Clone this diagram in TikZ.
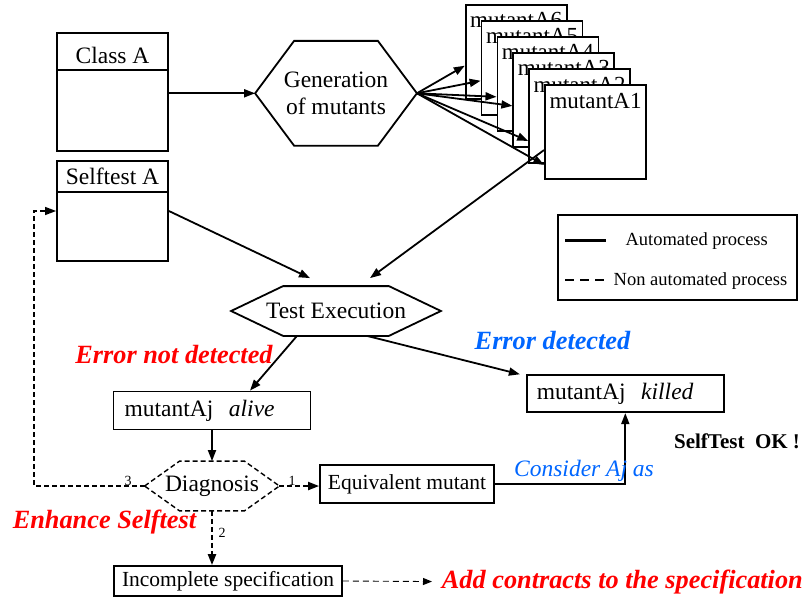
\documentclass[tikz,border=0pt]{standalone}
\usepackage{fontspec}
\setmainfont{Liberation Serif}
\usetikzlibrary{arrows.meta,calc,positioning}
\definecolor{errred}{RGB}{255,0,0}
\definecolor{errblue}{RGB}{0,102,255}
% hexagon drawn round a (plain) node: #2 node name, #3 inset of the points
\newcommand\hexframe[3][]{\draw[#1] (#2.west) -- ([xshift=#3]#2.north west) -- ([xshift=-#3]#2.north east) -- (#2.east) -- ([xshift=-#3]#2.south east) -- ([xshift=#3]#2.south west) -- cycle;}

\begin{document}
\begin{tikzpicture}[x=1pt,y=-1pt,line width=1.8pt,>={Triangle[length=11pt,width=8pt]},
  every node/.style={font=\fontsize{23.5}{27.7}\selectfont},
  box/.style={draw,inner sep=0pt},
  mutbox/.style={draw,fill=white,minimum width=101pt,minimum height=94pt},
  hexnode/.style={inner sep=0pt,align=center},
  manual/.style={->,dash pattern=on 5pt off 3pt},
  tag/.style={font=\fontsize{14}{16}\selectfont},
  note/.style={font=\fontsize{26.3}{31}\selectfont\bfseries\itshape}]
  \useasboundingbox (0,0) rectangle (805,599);

  % class and its selftest
  \node[box,minimum width=111pt,minimum height=118pt] (classA) at (112.5,92) {};
  \draw (classA.north west) ++(0,38) -- ++(113,0);
  \node (classA-name) at ([yshift=-23pt]classA.north) {Class A};
  \node[box,minimum width=111pt,minimum height=100pt] (selftest) at (112.5,211) {};
  \draw (selftest.north west) ++(0,32) -- ++(113,0);
  \node (selftest-name) at ([yshift=-16pt]selftest.north) {Selftest A};

  \node[hexnode,minimum width=160pt,minimum height=103pt] (gen) at (336,93.3) {Generation\\of mutants};
  \hexframe{gen}{39pt}
  \draw[->] (classA.east |- gen.west) -- (gen.west);

  % stack of mutants, back one first
  \foreach \k/\d in {6/0,5/1,4/2,3/3,2/4,1/5}{
    \node[mutbox] (m\k) at ({516.2+15.86*\d},{51.7+16.06*\d}) {};
    \node[anchor=base,font=\fontsize{23}{27}\selectfont] (m\k-name) at ([yshift=-24pt]m\k.north) {mutantA\k};
  }
  \foreach \k/\s in {6/14pt,5/13pt,4/13pt,3/6pt,2/25pt,1/33pt}
    \draw[->] (gen.east) -- ([yshift=-\s]m\k.west);

  \node[hexnode,minimum width=208pt,minimum height=48pt] (test) at (336,311) {Test Execution};
  \hexframe{test}{52pt}
  \draw[->] (selftest.east) -- ([xshift=-26pt,yshift=8pt]test.north);
  \draw[->] ([yshift=-18pt]m1.west) -- ([xshift=34pt,yshift=8pt]test.north);

  % legend
  \node[box,minimum width=239pt,minimum height=85pt] (legend) at (677.5,257.5) {};
  \draw[line width=2.5pt] ([xshift=8pt,yshift=-26.5pt]legend.north west) -- ++(40.5,0);
  \draw[line width=2.5pt,dash pattern=on 9pt off 6pt] ([xshift=8pt,yshift=-66pt]legend.north west) -- ++(40.5,0);
  \node[font=\fontsize{18.5}{22}\selectfont] (auto-txt) at (696.7,241.5) {Automated process};
  \node[font=\fontsize{18.5}{22}\selectfont] (manual-txt) at (700.5,281) {Non automated process};

  % results of the run
  \node[box,minimum height=38pt,text width=175pt,inner xsep=11pt,align=left] (alive) at (212,410.5) {mutantAj\ \ \textit{alive}};
  \node[box,minimum height=37pt,text width=177pt,inner xsep=10pt,align=left] (killed) at (625.3,393.7) {mutantAj\ \ \textit{killed}};
  \draw[->] ([xshift=-39pt]test.south) -- ([xshift=38pt]alive.north);
  \draw[->] ([xshift=31pt]test.south) -- ([xshift=-6pt]killed.north west);
  \node[note,text=errred] (notdet) at (174,355) {Error not detected};
  \node[note,text=errblue] (det) at (552.5,341) {Error detected};

  % diagnosis of a live mutant
  \node[hexnode,minimum width=133pt,minimum height=48pt] (diag) at (212,486) {Diagnosis};
  \hexframe[line width=1.4pt,dash pattern=on 5pt off 3pt]{diag}{35pt}
  \draw[->] (alive.south) -- (diag.north);
  \node[box,minimum width=174pt,minimum height=38pt,font=\fontsize{21.5}{25}\selectfont] (equiv) at (407,484) {Equivalent mutant};
  \node[box,minimum width=228pt,minimum height=30pt,font=\fontsize{21.5}{25}\selectfont] (incomplete) at (228,581) {Incomplete specification};
  \draw[manual,line width=2pt] (diag.east) -- (diag.east -| equiv.west);
  \draw[manual,line width=2.2pt] (diag.south) -- (diag.south |- incomplete.north);
  \coordinate (back) at (34,486);
  \draw[manual,line width=1.3pt] (diag.west) -- (back) |- (selftest.west);
  \node[tag,anchor=base] (one) at (292,485) {1};
  \node[tag] (two) at (222,533) {2};
  \node[tag,anchor=base] (three) at (128,485) {3};
  \draw[->] (equiv.east) -| (killed.south);
  \node[font=\fontsize{23.5}{27.7}\selectfont\itshape,text=errblue,anchor=base] (consider) at (584,476) {Consider Aj as};
  \node[font=\fontsize{21}{25}\selectfont\bfseries] (selfok) at (737,441.5) {SelfTest\ \ OK !};
  \node[note,text=errred] (enhance) at (104.5,522) {Enhance Selftest};
  \node[note,text=errred,anchor=base west,inner sep=0pt] (contracts) at (441,588) {Add contracts to the specification};
  \draw[->,line width=0.9pt,dash pattern=on 6pt off 4pt,>={Triangle[length=9pt,width=7pt]}] (incomplete.east) -- ([xshift=-9pt]contracts.west);
\end{tikzpicture}
\end{document}
